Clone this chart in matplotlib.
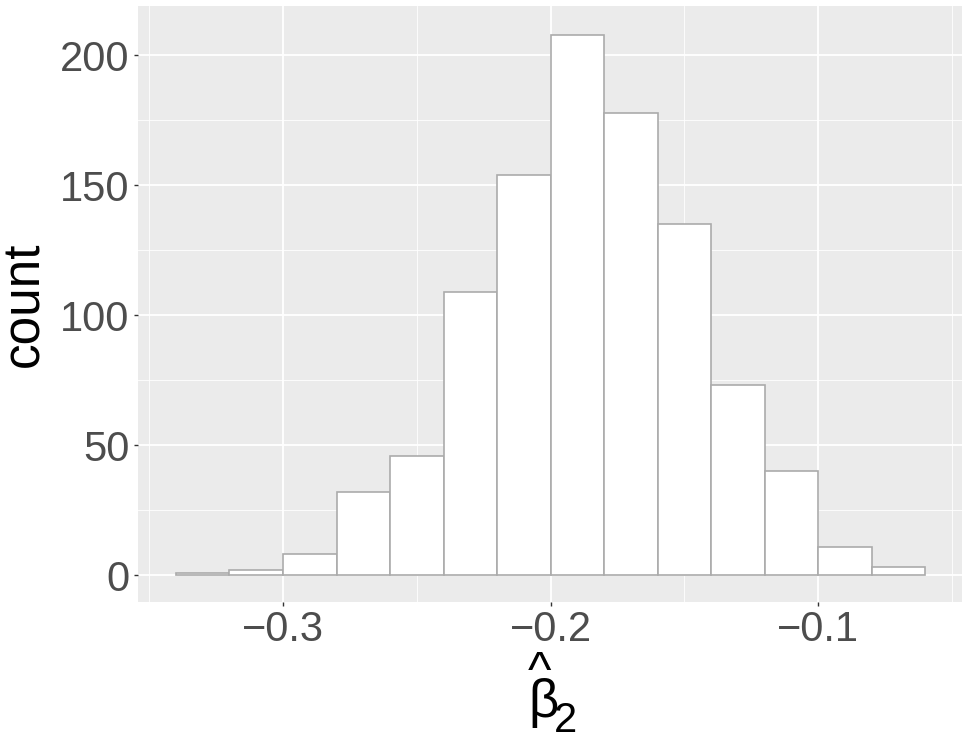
import numpy as np
import matplotlib
matplotlib.use('Agg')
import matplotlib.pyplot as plt
from matplotlib.ticker import MultipleLocator

plt.rcParams['font.family'] = ['Liberation Sans', 'DejaVu Sans']

# histogram bins (edges) and counts
bin_edges = [-0.34, -0.32, -0.30, -0.28, -0.26, -0.24, -0.22, -0.20,
             -0.18, -0.16, -0.14, -0.12, -0.10, -0.08, -0.06]
counts = [1, 2, 8, 32, 46, 109, 154, 208, 178, 135, 73, 40, 11, 3]

x_ticks = [-0.3, -0.2, -0.1]
x_tick_labels = ['\u22120.3', '\u22120.2', '\u22120.1']
y_ticks = [0, 50, 100, 150, 200]

W, H = 969, 749
fig = plt.figure(figsize=(W / 100, H / 100), dpi=100)
ax = fig.add_axes([0.1424, 0.1963, 0.8504, 0.7957])
ax.set_facecolor('#EBEBEB')

edges = np.array(bin_edges)
ax.bar(edges[:-1], counts, width=np.diff(edges), align='edge',
       color='white', edgecolor='#ABABAB', linewidth=1.2, zorder=3)

ax.set_xlim(-0.3542, -0.0462)
ax.set_ylim(-10.3, 219.0)

ax.set_xticks(x_ticks)
ax.set_xticklabels(x_tick_labels)
ax.set_yticks(y_ticks)
ax.minorticks_on()
ax.xaxis.set_minor_locator(MultipleLocator(0.05))
ax.yaxis.set_minor_locator(MultipleLocator(25))

ax.grid(which='major', color='white', linewidth=1.3, zorder=0)
ax.grid(which='minor', color='white', linewidth=0.6, zorder=0)
ax.set_axisbelow(True)

for s in ax.spines.values():
    s.set_visible(False)

ax.tick_params(which='major', length=3, width=1, color='#333333',
               labelsize=30, labelcolor='#4D4D4D', pad=3)
ax.tick_params(which='minor', length=0)

ax.set_ylabel('count', fontsize=37, color='black', labelpad=8)

# x title: beta hat sub 2, built like R plotmath
def px(x, y):
    return x / W, (H - y) / H

fig.text(*px(528, 717), '\u03b2', fontsize=38, color='black',
         ha='left', va='baseline')
fig.text(*px(554, 732), '2', fontsize=30, color='black',
         ha='left', va='baseline')
fig.text(*px(540, 686), '^', fontsize=36, color='black',
         ha='center', va='baseline')

fig.savefig('out.png', dpi=100)
